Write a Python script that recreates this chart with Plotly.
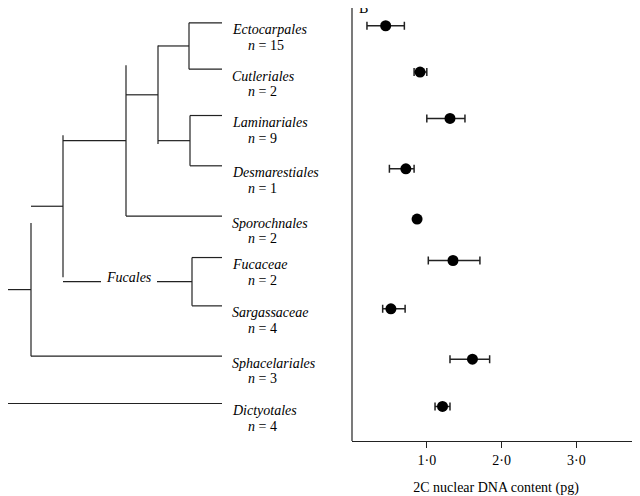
import plotly.graph_objects as go

# taxa, top to bottom
taxa = ["Ectocarpales", "Cutleriales", "Laminariales", "Desmarestiales", "Sporochnales",
        "Fucaceae", "Sargassaceae", "Sphacelariales", "Dictyotales"]
n_vals = [15, 2, 9, 1, 2, 2, 4, 3, 4]
leaf_y = [23, 70, 117, 168, 219, 261, 310, 361, 409]

# 2C DNA content (pg) with error bar limits
dna = [0.45, 0.91, 1.31, 0.72, 0.87, 1.35, 0.52, 1.61, 1.21]
err_lo = [0.20, 0.83, 1.00, 0.50, 0.84, 1.02, 0.41, 1.31, 1.11]
err_hi = [0.70, 1.00, 1.51, 0.83, 0.90, 1.71, 0.71, 1.84, 1.31]

# tree nodes: (x of node, y top, y bottom, x of parent)
nodes = [(189, 23, 70, 158), (190, 117, 168, 158), (158, 46, 146, 126),
         (126, 66, 219, 63), (192, 261, 310, 63), (63, 137, 281, 31),
         (31, 226, 361, 1), (1, 297, 409, None)]
leaf_parent_x = [189, 189, 190, 190, 126, 192, 192, 31, 1]
tip_x = 222

FONT = "Liberation Serif"
W, H = 632, 488  # page adds an 8px body margin
AX = 352          # page x of panel B axis

tx, ty = [], []
for xp, y in zip(leaf_parent_x, leaf_y):
    tx += [xp, tip_x, None]; ty += [y, y, None]
for xn, y0, y1, xpar in nodes:
    tx += [xn, xn, None]; ty += [y0, y1, None]
    if xpar is not None:
        ym = (y0 + y1) / 2
        if xn == 192:  # Fucales branch, broken by label
            tx += [xpar, 101, None, 157, xn, None]; ty += [ym, ym, None, ym, ym, None]
        else:
            tx += [xpar, xn, None]; ty += [ym, ym, None]

fig = go.Figure()
fig.add_trace(go.Scatter(x=tx, y=ty, mode="lines", line=dict(color="#222", width=1.2),
                         xaxis="x", yaxis="y", hoverinfo="skip"))

yb = [y + 3 for y in leaf_y]
fig.add_trace(go.Scatter(
    x=dna, y=yb, mode="markers", xaxis="x2", yaxis="y",
    marker=dict(color="black", size=11),
    error_x=dict(type="data", symmetric=False,
                 array=[h - d for h, d in zip(err_hi, dna)],
                 arrayminus=[d - l for d, l in zip(dna, err_lo)],
                 color="#222", thickness=1.5, width=4)))

tf = dict(family=FONT, size=14, color="black")
ann = []
for name, n, y in zip(taxa, n_vals, leaf_y):
    ann.append(dict(x=230, y=y + 7, xref="x", yref="y", text=f"<i>{name}</i>",
                    showarrow=False, xanchor="left", font=tf))
    ann.append(dict(x=246, y=y + 23, xref="x", yref="y", text=f"<i>n</i> = {n}",
                    showarrow=False, xanchor="left", font=tf))
ann.append(dict(x=129, y=281, xref="x", yref="y", text="<i>Fucales</i>", showarrow=False, font=tf))
ann.append(dict(x=7, y=8, xref="x", yref="y", text="A", showarrow=False, font=tf))
ann.append(dict(x=0.15, y=8, xref="x2", yref="y", text="B", showarrow=False, font=tf))

split = (AX - 8) / W
fig.update_layout(
    width=W, height=H, margin=dict(l=0, r=0, t=0, b=H - (447 - 8)),
    paper_bgcolor="white", plot_bgcolor="white", showlegend=False,
    font=tf,
    annotations=ann,
    xaxis=dict(domain=[0, split], range=[8, AX], visible=False),
    xaxis2=dict(domain=[split, 1], range=[0, 3.85], anchor="y",
                tickvals=[1, 2, 3], ticktext=["1·0", "2·0", "3·0"],
                ticks="outside", ticklen=6, tickcolor="#222",
                showline=True, linecolor="#222", linewidth=1.2, showgrid=False, zeroline=False,
                title=dict(text="2C nuclear DNA content (pg)", standoff=18, font=tf)),
    yaxis=dict(range=[447, 8], visible=False),
)
fig.add_shape(type="line", xref="paper", yref="y", x0=split, x1=split, y0=8, y1=447,
              line=dict(color="#222", width=1.2))

fig.write_html("out.html")
